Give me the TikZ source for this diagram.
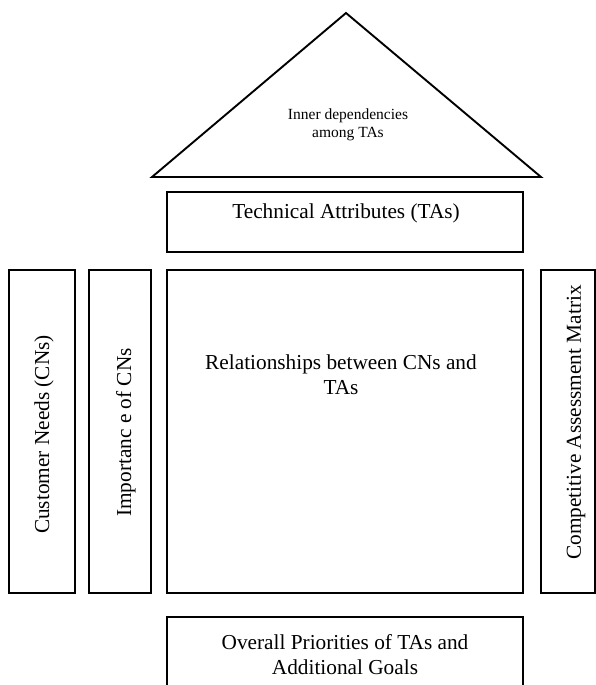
\documentclass[tikz,border=0pt]{standalone}
\usepackage{fontspec}
\setmainfont{Liberation Serif}
\begin{document}
\begin{tikzpicture}[x=1pt,y=-1pt,
  box/.style={draw,line width=1.9pt,inner sep=0pt,line join=miter},
  lbl/.style={font=\fontsize{21.3}{25}\selectfont,align=center,inner sep=0pt},
  smalllbl/.style={font=\fontsize{15.5}{18.5}\selectfont,align=center,inner sep=0pt}]
\useasboundingbox (0,0) rectangle (596,685);
% roof
\coordinate (apex) at (346,13);
\coordinate (roofl) at (152,177);
\coordinate (roofr) at (541,177);
\draw[line width=1.9pt,line join=miter] (roofl) -- (apex) -- (roofr) -- cycle;
\node[smalllbl] (inner) at (348,125) {Inner dependencies\\among TAs};
% technical attributes
\node[box,minimum width=356pt,minimum height=60pt] (ta) at (345,222) {};
\node[lbl,anchor=base] (talbl) at (346,218) {Technical Attributes (TAs)};
% walls
\node[box,minimum width=66pt,minimum height=323pt] (cn) at (42,431.5) {};
\node[lbl,rotate=90] (cnlbl) at (44,434.5) {Customer Needs (CNs)};
\node[box,minimum width=62pt,minimum height=323pt] (imp) at (120,431.5) {};
\node[lbl,rotate=90] (implbl) at (126,432.5) {Importanc e of CNs};
\node[box,minimum width=356pt,minimum height=323pt] (rel) at (345,431.5) {};
\node[lbl] (rellbl) at (341,375) {Relationships between CNs and\\TAs};
\node[box,minimum width=54pt,minimum height=323pt] (comp) at (568,431.5) {};
\node[lbl,rotate=90] (complbl) at (576,422.5) {Competitive Assessment Matrix};
% basement
\node[box,minimum width=356pt,minimum height=90pt] (ovr) at (345,662) {};
\node[lbl] (ovrlbl) at (345,655) {Overall Priorities of TAs and\\Additional Goals};
\end{tikzpicture}
\end{document}
